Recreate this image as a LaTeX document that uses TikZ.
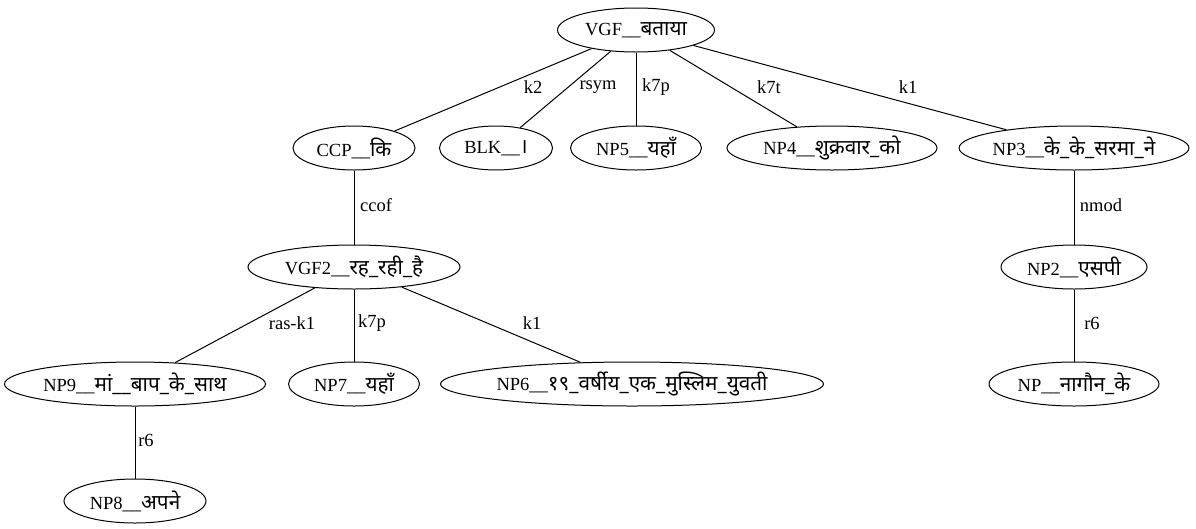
\documentclass[tikz,border=0pt]{standalone}
\usepackage{fontspec}
\setmainfont{Liberation Serif}
\newfontfamily\devfont[Script=Devanagari,Scale=1.12]{Noto Sans}
\usepackage{tikz}
\usetikzlibrary{shapes.geometric,positioning}
\newcommand{\dv}[1]{{\devfont #1}}
\tikzset{
    nd/.style={ % graph node
        ellipse,
        draw=black,
        line width=1pt,
        text centered,
        inner xsep=0pt,
        inner ysep=0pt,
        minimum height=44pt
        },
    edg/.style={ % plain edge
        draw=black,
        line width=1pt
        },
    lbl/.style={ % edge label
        inner sep=0pt
        }
}
\begin{document}
\begin{tikzpicture}[x=1pt,y=-1pt,font=\fontsize{18.5}{22}\selectfont]
		\useasboundingbox (0,0) rectangle (1196,528);

		%%%%% node vgf
		\node[nd,minimum width=157pt] (vgf) at (636,30) {VGF\_\_\dv{बताया}};

		%%%%% node ccp
		\node[nd,minimum width=122pt,below=73pt of vgf,xshift=-282pt] (ccp) {CCP\_\_\dv{कि}};

		%%%%% node blk
		\node[nd,minimum width=113pt,below=73pt of vgf,xshift=-140pt] (blk) {BLK\_\_\dv{।}};

		%%%%% node np5
		\node[nd,minimum width=131pt,below=73pt of vgf] (np5) {NP5\_\_\dv{यहाँ}};

		%%%%% node np4
		\node[nd,minimum width=210pt,below=73pt of vgf,xshift=196pt] (np4) {NP4\_\_\dv{शुक्रवार\_को}};

		%%%%% node np3
		\node[nd,minimum width=228pt,below=73pt of vgf,xshift=438pt] (np3) {NP3\_\_\dv{के\_के\_सरमा\_ने}};

		%%%%% edges from vgf
		\draw[edg] (vgf) -- (ccp) node[lbl] (e1) at (533,87) {k2};
		\draw[edg] (vgf) -- (blk) node[lbl] (e2) at (598,87) {rsym};
		\draw[edg] (vgf) -- (np5) node[lbl] (e3) at (656,87) {k7p};
		\draw[edg] (vgf) -- (np4) node[lbl] (e4) at (769,87) {k7t};
		\draw[edg] (vgf) -- (np3) node[lbl] (e5) at (908,87) {k1};

		%%%%% node vgf2
		\node[nd,minimum width=212pt,below=74pt of ccp] (vgf2) {VGF2\_\_\dv{रह\_रही\_है}};

		%%%%% edge e6
		\draw[edg] (ccp) -- (vgf2) node[lbl] (e6) at (376,205) {ccof};

		%%%%% node np2
		\node[nd,minimum width=146pt,below=74pt of np3] (np2) {NP2\_\_\dv{एसपी}};

		%%%%% edge e7
		\draw[edg] (np3) -- (np2) node[lbl] (e7) at (1101,205) {nmod};

		%%%%% node np9
		\node[nd,minimum width=261pt,below=72pt of vgf2,xshift=-219pt] (np9) {NP9\_\_\dv{मां\_\_बाप\_के\_साथ}};

		%%%%% node np7
		\node[nd,minimum width=131pt,below=72pt of vgf2] (np7) {NP7\_\_\dv{यहाँ}};

		%%%%% node np6
		\node[nd,minimum width=378pt,below=72pt of vgf2,xshift=278pt] (np6) {NP6\_\_\dv{१९\_वर्षीय\_एक\_मुस्लिम\_युवती}};

		%%%%% edges from vgf2
		\draw[edg] (vgf2) -- (np9) node[lbl] (e8) at (292,323) {ras-k1};
		\draw[edg] (vgf2) -- (np7) node[lbl] (e9) at (372,323) {k7p};
		\draw[edg] (vgf2) -- (np6) node[lbl] (e10) at (532,323) {k1};

		%%%%% node npn
		\node[nd,minimum width=170pt,below=72pt of np2] (npn) {NP\_\_\dv{नागौन\_के}};

		%%%%% edge e11
		\draw[edg] (np2) -- (npn) node[lbl] (e11) at (1092,323) {r6};

		%%%%% node np8
		\node[nd,minimum width=142pt,below=72pt of np9] (np8) {NP8\_\_\dv{अपने}};

		%%%%% edge e12
		\draw[edg] (np9) -- (np8) node[lbl] (e12) at (146,440) {r6};
\end{tikzpicture}
\end{document}
